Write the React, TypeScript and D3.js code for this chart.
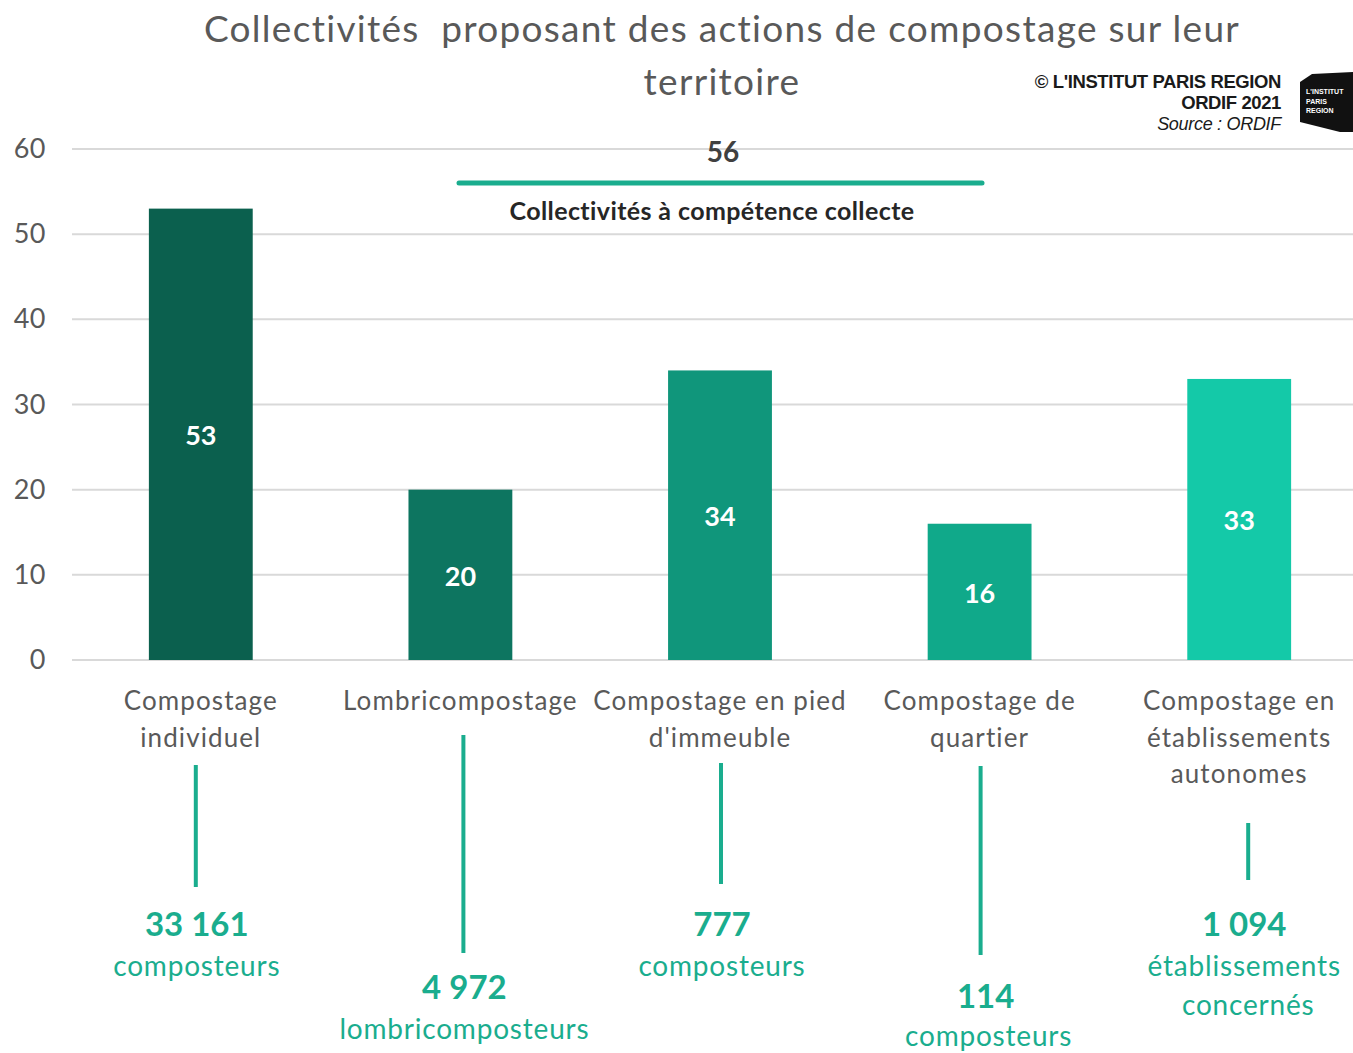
import React from "react";
import * as d3 from "d3";

const categories: string[][] = [
  ["Compostage", "individuel"],
  ["Lombricompostage"],
  ["Compostage en pied", "d'immeuble"],
  ["Compostage de", "quartier"],
  ["Compostage en", "établissements", "autonomes"],
];
const values: number[] = [53, 20, 34, 16, 33];
const barColors: string[] = ["#0b604e", "#0d7560", "#10967b", "#10a98a", "#14c9a8"];
const counts: string[] = ["33 161", "4 972", "777", "114", "1 094"];
const countUnits: string[][] = [
  ["composteurs"],
  ["lombricomposteurs"],
  ["composteurs"],
  ["composteurs"],
  ["établissements", "concernés"],
];
const yTicks: number[] = [0, 10, 20, 30, 40, 50, 60];
const totalCollect = 56;
const totalLabel = "Collectivités à compétence collecte";
const titleLines: string[] = ["Collectivités  proposant des actions de compostage sur leur", "territoire"];
const creditLines: string[] = ["© L'INSTITUT PARIS REGION", "ORDIF 2021", "Source : ORDIF"];

// layout of the annotation rows under each category (connector start/end, number baseline, unit gap)
const annot = [
  { y1: 765, y2: 887, ny: 936, gap: 40 },
  { y1: 735, y2: 953, ny: 999, gap: 40 },
  { y1: 763, y2: 884, ny: 936, gap: 40 },
  { y1: 766, y2: 955, ny: 1008, gap: 38 },
  { y1: 823, y2: 880, ny: 936, gap: 40 },
];

const W = 1353;
const H = 1053;
const FONT = "Lato, 'Open Sans', sans-serif";
const TEAL = "#1aad8e";

export default function App() {
  const x = d3.scaleBand<number>().domain(d3.range(values.length)).range([71, 1369]).paddingInner(0.6).paddingOuter(0.3);
  const y = d3.scaleLinear().domain([0, 60]).range([660, 149]);
  const cx = (i: number) => (x(i) as number) + x.bandwidth() / 2;

  return (
    <div style={{ position: "absolute", left: 0, top: 0 }}>
      <svg width={W} height={H} style={{ display: "block", background: "#fff" }} fontFamily={FONT}>
        {/* title */}
        {titleLines.map((t, i) => (
          <text key={i} x={722} y={42 + i * 53} textAnchor="middle" fontSize={37} fill="#595959" letterSpacing={1.3} style={{ whiteSpace: "pre" }}>
            {t}
          </text>
        ))}
        {/* credits */}
        {creditLines.map((t, i) => (
          <text
            key={i}
            x={1281}
            y={88 + i * 21}
            textAnchor="end"
            fontSize={i === 2 ? 18 : 18.5}
            fontFamily="'Liberation Sans', Arial, sans-serif"
            fontWeight={i === 2 ? 400 : 700}
            fontStyle={i === 2 ? "italic" : "normal"}
            fill="#1a1a1a"
            letterSpacing={i === 2 ? -0.3 : -0.4}
          >
            {t}
          </text>
        ))}
        {/* logo */}
        <path d="M1312,74 L1353,72 L1353,132 L1340,132 L1300,122 L1300,82 Z" fill="#111" />
        <text x={1306} y={94} fontSize={7} fontWeight={700} fill="#fff" fontFamily="'Liberation Sans', Arial, sans-serif">L'INSTITUT</text>
        <text x={1306} y={104} fontSize={7} fontWeight={700} fill="#fff" fontFamily="'Liberation Sans', Arial, sans-serif">PARIS</text>
        <text x={1306} y={113} fontSize={7} fontWeight={700} fill="#fff" fontFamily="'Liberation Sans', Arial, sans-serif">REGION</text>

        {/* grid + y ticks */}
        {yTicks.map((t) => (
          <g key={t}>
            <line x1={72} x2={W} y1={y(t)} y2={y(t)} stroke="#d9d9d9" strokeWidth={2} />
            <text x={46} y={y(t) + 9} textAnchor="end" fontSize={27} fill="#595959" letterSpacing={0.5}>
              {t}
            </text>
          </g>
        ))}

        {/* bars */}
        {values.map((v, i) => (
          <g key={i}>
            <rect x={x(i)} y={y(v)} width={x.bandwidth()} height={y(0) - y(v)} fill={barColors[i]} />
            <text x={cx(i)} y={(y(v) + y(0)) / 2 + 11} textAnchor="middle" fontSize={27} fontWeight={700} fill="#fff">
              {v}
            </text>
          </g>
        ))}

        {/* total annotation */}
        <text x={723} y={162} textAnchor="middle" fontSize={28} fontWeight={700} fill="#404040">
          {totalCollect}
        </text>
        <line x1={459} x2={982} y1={183} y2={183} stroke={TEAL} strokeWidth={5} strokeLinecap="round" />
        <text x={712} y={220} textAnchor="middle" fontSize={25} fontWeight={700} fill="#262626" letterSpacing={0.4}>
          {totalLabel}
        </text>

        {/* category labels */}
        {categories.map((lines, i) => (
          <g key={i}>
            {lines.map((l, j) => (
              <text key={j} x={cx(i)} y={710 + j * 36.5} textAnchor="middle" fontSize={26} fill="#595959" letterSpacing={1.1}>
                {l}
              </text>
            ))}
          </g>
        ))}

        {/* counts */}
        {counts.map((c, i) => {
          const a = annot[i];
          const px = cx(i) + (i === 4 ? 9 : i === 3 ? 1 : i === 2 ? 1 : i === 1 ? 3 : -5);
          return (
            <g key={i}>
              <line x1={px} x2={px} y1={a.y1} y2={a.y2} stroke={TEAL} strokeWidth={4} />
              <text x={px + (i === 3 ? 5 : i === 4 ? -4 : 1)} y={a.ny} textAnchor="middle" fontSize={33} fontWeight={700} fill={TEAL}>
                {c}
              </text>
              {countUnits[i].map((u, j) => (
                <text key={j} x={px + (i === 3 ? 8 : i === 4 ? (j === 1 ? 0 : -4) : 1)} y={a.ny + a.gap + j * 39} textAnchor="middle" fontSize={28} fill={TEAL} letterSpacing={0.8}>
                  {u}
                </text>
              ))}
            </g>
          );
        })}
      </svg>
    </div>
  );
}
